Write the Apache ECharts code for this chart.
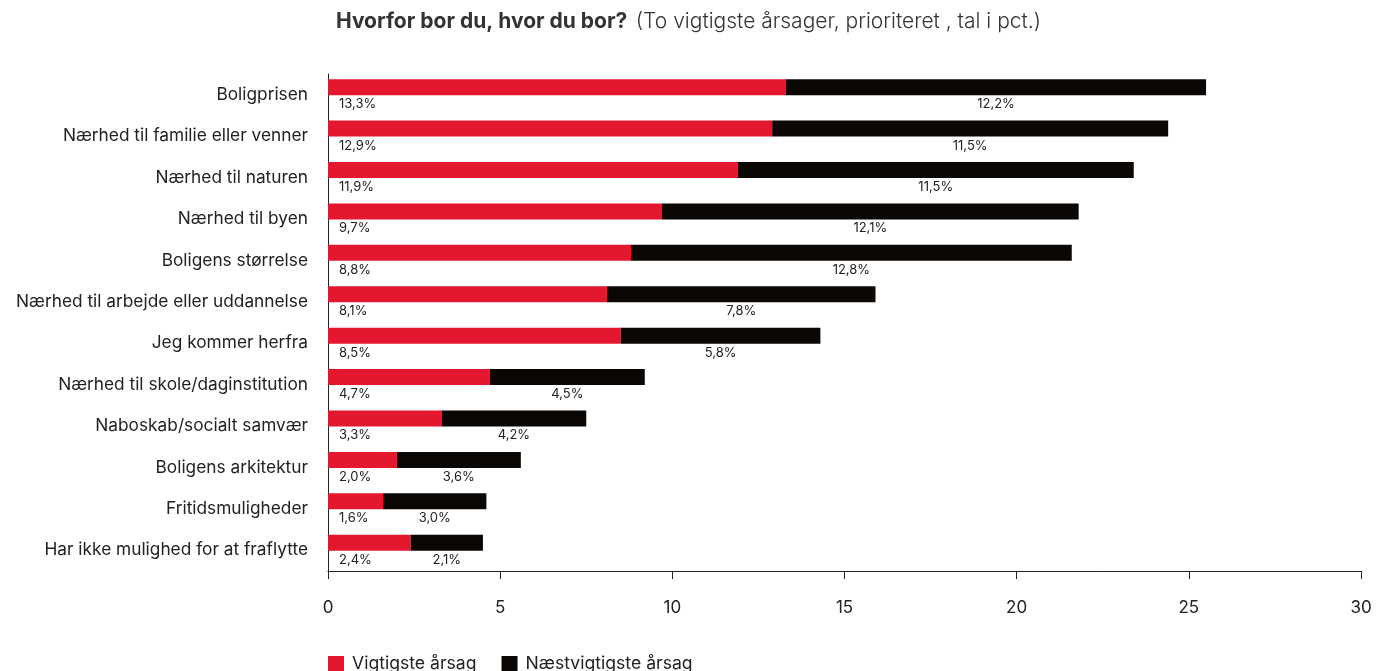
<!DOCTYPE html>
<html>
<head>
<meta charset="utf-8">
<script src="https://cdn.jsdelivr.net/npm/echarts@6/dist/echarts.min.js"></script>
<style>
html,body{margin:0;padding:0;background:#fff;}
#chart{width:1376px;height:671px;}
</style>
</head>
<body>
<div id="chart"></div>
<script>
const categories = [
  'Boligprisen',
  'Nærhed til familie eller venner',
  'Nærhed til naturen',
  'Nærhed til byen',
  'Boligens størrelse',
  'Nærhed til arbejde eller uddannelse',
  'Jeg kommer herfra',
  'Nærhed til skole/daginstitution',
  'Naboskab/socialt samvær',
  'Boligens arkitektur',
  'Fritidsmuligheder',
  'Har ikke mulighed for at fraflytte'
];
const vigtigste = [13.3, 12.9, 11.9, 9.7, 8.8, 8.1, 8.5, 4.7, 3.3, 2.0, 1.6, 2.4];
const naestvigtigste = [12.2, 11.5, 11.5, 12.1, 12.8, 7.8, 5.8, 4.5, 4.2, 3.6, 3.0, 2.1];
const xTicks = { min: 0, max: 30, interval: 5 };
const seriesNames = ['Vigtigste årsag', 'Næstvigtigste årsag'];

const FONT = 'Inter, "Open Sans", sans-serif';
const fmt = p => p.value.toFixed(1).replace('.', ',') + '%';

const chart = echarts.init(document.getElementById('chart'));
chart.setOption({
  animation: false,
  backgroundColor: '#fff',
  textStyle: { fontFamily: FONT, color: '#222' },
  title: {
    left: 331,
    top: 6,
    text: '{b|Hvorfor bor du, hvor du bor?}  {n|(To vigtigste årsager, prioriteret , tal i pct.)}',
    textStyle: {
      rich: {
        b: { fontFamily: FONT, fontSize: 21, fontWeight: 'bold', color: '#333' },
        n: { fontFamily: FONT, fontSize: 21, fontWeight: 300, color: '#333' }
      }
    }
  },
  legend: {
    left: 323,
    top: 650,
    itemWidth: 16,
    itemHeight: 16,
    itemGap: 25,
    icon: 'rect',
    data: seriesNames,
    textStyle: { fontFamily: FONT, fontSize: 17.6, color: '#222', padding: [0, 0, 0, 3] }
  },
  grid: { left: 328, right: 15, top: 74, bottom: 100, containLabel: false },
  xAxis: {
    type: 'value',
    min: xTicks.min,
    max: xTicks.max,
    interval: xTicks.interval,
    axisLine: { show: true, lineStyle: { color: '#222', width: 1 } },
    axisTick: { show: true, length: 8, lineStyle: { color: '#222' } },
    splitLine: { show: false },
    axisLabel: { fontFamily: FONT, fontSize: 17, color: '#222', margin: 28 }
  },
  yAxis: {
    type: 'category',
    inverse: true,
    data: categories,
    axisLine: { show: true, lineStyle: { color: '#222', width: 1 } },
    axisTick: { show: false },
    axisLabel: { fontFamily: FONT, fontSize: 17.3, color: '#222', margin: 20 }
  },
  series: [
    {
      name: seriesNames[0],
      type: 'bar',
      stack: 'a',
      barWidth: 16,
      barGap: '-6%',
      data: vigtigste,
      itemStyle: { color: '#E3172E' },
      label: {
        show: true,
        position: [11, '100%'],
        align: 'left',
        verticalAlign: 'middle',
        offset: [0, 9],
        fontFamily: FONT,
        fontSize: 13,
        color: '#222',
        formatter: fmt
      }
    },
    {
      name: seriesNames[1],
      type: 'bar',
      stack: 'a',
      barWidth: 16,
      barGap: '-6%',
      data: naestvigtigste,
      itemStyle: { color: '#0B0704' },
      label: {
        show: true,
        position: ['50%', '100%'],
        align: 'center',
        verticalAlign: 'middle',
        offset: [0, 9],
        fontFamily: FONT,
        fontSize: 13,
        color: '#222',
        formatter: fmt
      }
    },
    {
      name: 'spacer',
      type: 'bar',
      stack: 'b',
      barWidth: 16,
      barGap: '-6%',
      silent: true,
      data: categories.map(() => 0),
      itemStyle: { opacity: 0 },
      label: { show: false }
    }
  ]
});
</script>
</body>
</html>
